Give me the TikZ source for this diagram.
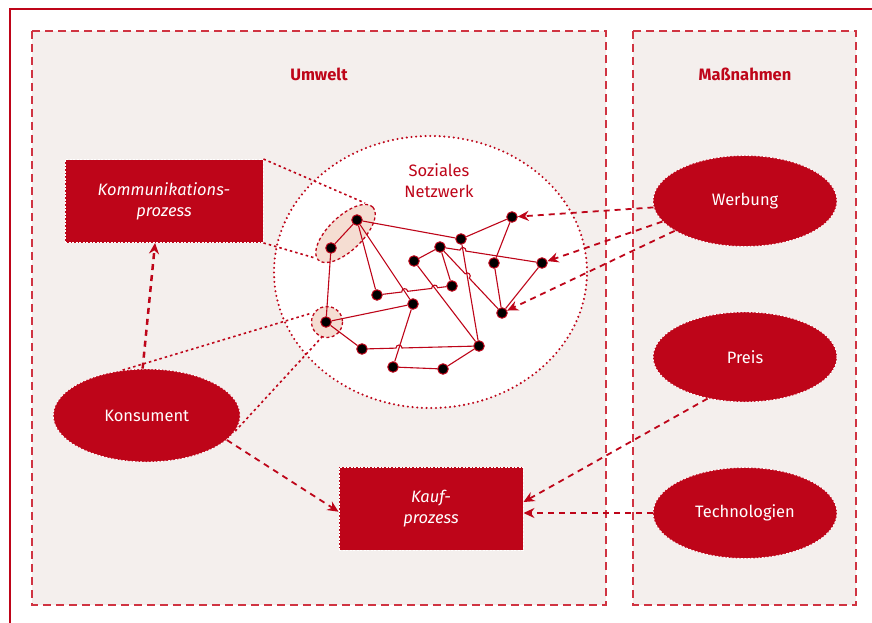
\documentclass[tikz,border=0pt]{standalone}
\usepackage{fontspec}
\setmainfont{Fira Sans}
\usetikzlibrary{shapes.geometric,arrows.meta,calc}
\definecolor{brandred}{RGB}{190,5,25}
\definecolor{framered}{RGB}{208,52,66}
\definecolor{panel}{RGB}{244,239,237}
\definecolor{halo}{RGB}{245,221,210}

\begin{document}
\begin{tikzpicture}[x=1pt,y=-1pt,
  panelbox/.style={fill=panel, draw=framered, line width=1.3pt, dash pattern=on 8pt off 5pt},
  procbox/.style={rectangle, fill=brandred, draw=white, line width=0.9pt, dash pattern=on 2pt off 1.5pt,
    text=white, font=\fontsize{16.5}{21}\selectfont\itshape, align=center,
    minimum width=198pt, minimum height=83pt, inner sep=0pt},
  actor/.style={ellipse, fill=brandred, draw=white, line width=0.9pt, dash pattern=on 2pt off 1.5pt,
    text=white, font=\fontsize{16.5}{21}\selectfont,
    minimum width=184pt, minimum height=91pt, inner sep=0pt},
  member/.style={circle, fill=black, draw=brandred, line width=1pt, minimum size=10.5pt, inner sep=0pt},
  tie/.style={draw=brandred, line width=1.1pt},
  hop/.style={bend left=90, looseness=1.7},
  feed/.style={draw=brandred, line width=1.8pt, dash pattern=on 6pt off 5pt, -{Stealth[length=11pt,width=10pt]}},
  link/.style={draw=brandred, line width=1.6pt, dash pattern=on 2.5pt off 3pt},
  haloshape/.style={fill=halo, draw=brandred, line width=1.3pt, dash pattern=on 3pt off 2.5pt},
  title/.style={text=brandred, font=\fontsize{16.5}{20}\selectfont\bfseries},
]
\useasboundingbox (0,0) rectangle (872,623);

% outer frame (only top and left edges lie inside the page)
\draw[brandred, line width=1.6pt] (10,623) -- (10,9) -- (872,9);

% panels
\draw[panelbox] (32,31) rectangle (606,605);
\draw[panelbox] (633,31) rectangle (856,605);
\node[title] (lblUmwelt) at (319,74) {Umwelt};
\node[title] (lblMass) at (745,74) {Maßnahmen};

% social network area
\node[ellipse, fill=white, draw=brandred, line width=2.3pt, line cap=round,
      dash pattern=on 0pt off 4.7pt, minimum width=313pt, minimum height=272pt] (net) at (430.5,272) {};
\node[text=brandred, font=\fontsize{16.5}{21}\selectfont, align=center] (lblNetz) at (439,181) {Soziales\\Netzwerk};

% main actors and processes
\node[procbox] (komm) at (164,201) {Kommunikations-\\prozess};
\node[procbox, minimum width=184pt] (kauf) at (431,508.5) {Kauf-\\prozess};
\node[actor, minimum width=187pt, minimum height=93pt] (konsument) at (146.7,415.5) {Konsument};
\node[actor] (werbung) at (745,201) {Werbung};
\node[actor, minimum height=90pt] (preis) at (745,357) {Preis};
\node[actor] (tech) at (745,513) {Technologien};

% highlighted groups inside the network
\draw[haloshape, rotate around={44:(345.5,233.5)}] (345.5,233.5) ellipse [x radius=38, y radius=17];
\draw[haloshape] (327,322) circle [radius=15.5];
\coordinate (haloAtop) at (365,203);
\coordinate (haloAbot) at (315,258);
\coordinate (haloBleft) at (312,313);
\coordinate (haloBbot) at (322,337);

% fine dashed references
\draw[link] (komm.north east) -- (haloAtop);
\draw[link] (komm.south east) -- (haloAbot);
\draw[link] (konsument.118) -- (haloBleft);
\draw[link] (konsument.350) -- (haloBbot);

% network members
\node[member] (n1) at (357,220) {};
\node[member] (n2) at (331,248) {};
\node[member] (n3) at (326,322) {};
\node[member] (n4) at (377,295) {};
\node[member] (n5) at (413,304) {};
\node[member] (n6) at (414,261) {};
\node[member] (n7) at (440,247) {};
\node[member] (n8) at (461,239) {};
\node[member] (n9) at (452,286) {};
\node[member] (n10) at (512,217) {};
\node[member] (n11) at (494,263) {};
\node[member] (n12) at (542,263) {};
\node[member] (n13) at (502,313) {};
\node[member] (n14) at (479,346) {};
\node[member] (n15) at (362,349) {};
\node[member] (n16) at (393,367) {};
\node[member] (n17) at (443,369) {};

% crossing points where a tie hops over another
\coordinate (h1) at ($(n4)!0.370!(n9)$);
\coordinate (h2) at ($(n4)!0.769!(n9)$);
\coordinate (h3) at ($(n15)!0.316!(n14)$);
\coordinate (h4) at ($(n7)!0.225!(n12)$);
\coordinate (h5) at ($(n7)!0.439!(n13)$);

% ties
\draw[tie] (n1) -- (n2);
\draw[tie] (n1) -- (n8);
\draw[tie] (n1) -- (n4);
\draw[tie] (n1) -- (n5);
\draw[tie] (n2) -- (n3);
\draw[tie] (n3) -- (n5);
\draw[tie] (n3) -- (n15);
\draw[tie] (n4) -- ($(h1)!3pt!(n4)$) to[hop] ($(h1)!3pt!(n9)$)
               -- ($(h2)!3pt!(n4)$) to[hop] ($(h2)!3pt!(n9)$) -- (n9);
\draw[tie] (n5) -- (n16);
\draw[tie] (n6) -- (n7);
\draw[tie] (n6) -- (n14);
\draw[tie] (n7) -- (n9);
\draw[tie] (n7) -- ($(h4)!3pt!(n7)$) to[hop] ($(h4)!3pt!(n12)$) -- (n12);
\draw[tie] (n7) -- ($(h5)!3pt!(n7)$) to[hop] ($(h5)!3pt!(n13)$) -- (n13);
\draw[tie] (n8) -- (n10);
\draw[tie] (n8) -- (n14);
\draw[tie] (n10) -- (n11);
\draw[tie] (n11) -- (n13);
\draw[tie] (n12) -- (n13);
\draw[tie] (n15) -- ($(h3)!3pt!(n15)$) to[hop] ($(h3)!3pt!(n14)$) -- (n14);
\draw[tie] (n14) -- (n17);
\draw[tie] (n16) -- (n17);

% influence arrows
\draw[feed, line width=2.5pt] (konsument.95) -- (komm.258);
\draw[feed] (konsument.343) -- (kauf.182);
\draw[feed] (werbung.184) -- (n10);
\draw[feed] (werbung.194) -- (n12);
\draw[feed] (werbung.203) -- (n13);
\draw[feed] (preis.228) -- (kauf.4);
\draw[feed] (tech.west) -- (kauf.east |- tech.west);
\end{tikzpicture}
\end{document}
